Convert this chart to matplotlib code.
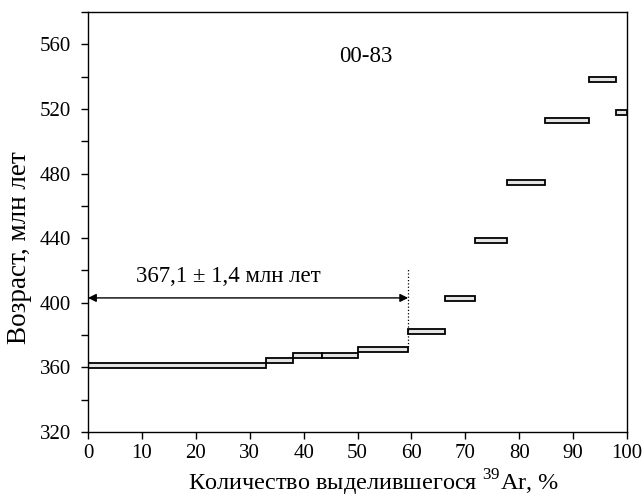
import matplotlib
matplotlib.use("Agg")
import matplotlib.pyplot as plt
from matplotlib.patches import Rectangle
from matplotlib.ticker import MultipleLocator

plt.rcParams["font.family"] = ["Liberation Serif", "DejaVu Serif"]
plt.rcParams["mathtext.fontset"] = "custom"
plt.rcParams["mathtext.rm"] = "Liberation Serif"

# step boundaries (% 39Ar released) and ages (Ma)
step_edges = [0, 33.0, 38.0, 43.4, 50.0, 59.4, 66.3, 71.8, 77.8, 84.8, 92.9, 98.0, 100]
step_ages = [361.1, 364.2, 367.6, 367.6, 370.9, 382.2, 402.5, 438.3, 474.2, 512.8, 538.1, 517.8]
step_err = 1.5

plateau_end = 59.4
plateau_y = 403
plateau_text = "367,1 ± 1,4 млн лет"
sample = "00-83"

fig = plt.figure(figsize=(6.43, 4.99), dpi=100)
ax = fig.add_axes((88 / 643, 1 - 432 / 499, (627 - 88) / 643, (432 - 12) / 499))

for i, age in enumerate(step_ages):
    x0, x1 = step_edges[i], step_edges[i + 1]
    ax.add_patch(Rectangle((x0, age - step_err), x1 - x0, 2 * step_err,
                           facecolor="#e4e4e4", edgecolor="black", lw=1.3))

# plateau arrow and boundary
ax.annotate("", xy=(0, plateau_y), xytext=(plateau_end, plateau_y),
            arrowprops=dict(arrowstyle="<|-|>", color="black", lw=1,
                            mutation_scale=12, shrinkA=0, shrinkB=0))
ax.plot([plateau_end, plateau_end], [372.5, 421.5], color="black", lw=0.9, ls=":")
ax.text(26.0, 416.5, plateau_text, ha="center", va="center", fontsize=16.5)
ax.text(51.5, 552.5, sample, ha="center", va="center", fontsize=16.5)

ax.set_xlim(0, 100)
ax.set_ylim(320, 580)
ax.xaxis.set_major_locator(MultipleLocator(10))
ax.yaxis.set_major_locator(MultipleLocator(40))
ax.yaxis.set_minor_locator(MultipleLocator(20))
ax.tick_params(which="both", direction="out", length=5, width=1, labelsize=15)
ax.tick_params(axis="y", pad=7)
ax.tick_params(axis="x", pad=4)
ax.set_yticks([320, 360, 400, 440, 480, 520, 560])
for s in ax.spines.values():
    s.set_linewidth(1)

ax.set_xlabel("Количество выделившегося $^{39}$Ar, %", fontsize=17.5, labelpad=3)
ax.xaxis.label.set_x(0.53)
ax.set_ylabel("Возраст, млн лет", fontsize=19.5, labelpad=6)
ax.yaxis.label.set_y(0.44)

fig.savefig("out.png", dpi=100)
